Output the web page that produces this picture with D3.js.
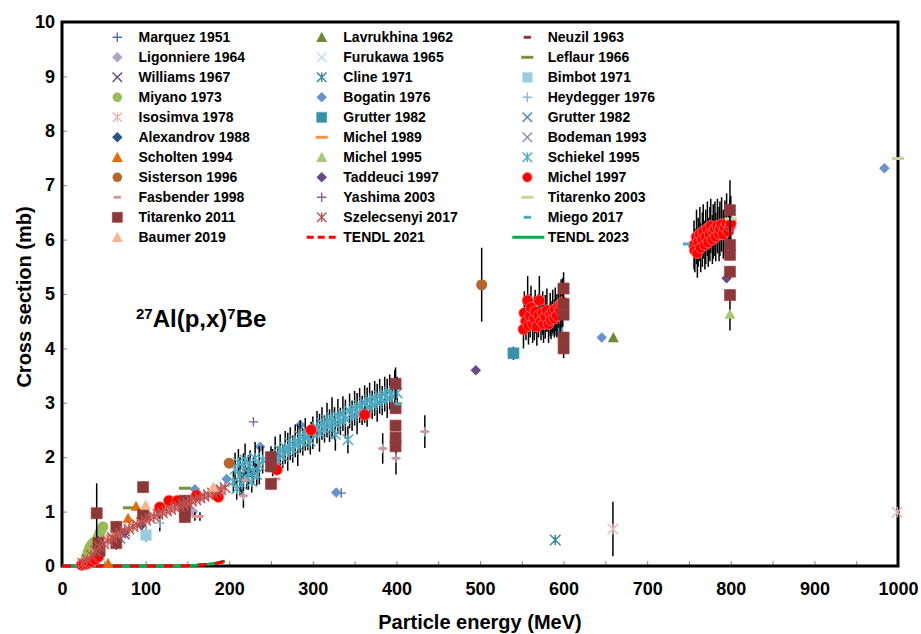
<!DOCTYPE html>
<html><head><meta charset="utf-8">
<script src="https://cdn.jsdelivr.net/npm/d3@7"></script>
<style>
body{margin:0;background:#fff}
text{font-family:"Liberation Sans",Arial,Helvetica,sans-serif;font-weight:bold;fill:#000}
</style>
</head><body>
<svg id="chart" width="921" height="634"></svg>
<script>
// ---------- DATA: [energy MeV, cross section mb, error mb] ----------
const marquez1951 = [[334,1.34,0]];
const lavrukhina1962 = [[659.5,4.2,0],[36,0.3,0]];
const neuzil1963 = [[150,1.05,0]];
const ligonniere1964 = [[157,1.0,0]];
const furukawa1965 = [[52,0.55,0],[100,0.85,0]];
const leflaur1966 = [[80,1.07,0],[125,1.12,0],[147,1.43,0]];
const williams1967 = [[75,0.58,0]];
const cline1971 = [[590,0.48,0.05]];
const bimbot1971 = [[100.5,0.57,0.12]];
const miyano1973 = [[27,0.08,0],[29,0.15,0],[31,0.25,0],[33,0.33,0],[35,0.38,0],[37,0.42,0],[39,0.44,0],[41,0.46,0],[43,0.52,0],[45,0.6,0],[47,0.67,0],[49,0.72,0]];
const bogatin1976 = [[159,1.41,0],[197,1.6,0],[237,2.19,0],[285,2.59,0],[328,1.35,0],[645.6,4.2,0],[983.7,7.31,0]];
const heydegger1976 = [[117,0.79,0.15],[217,1.29,0.22],[383.6,2.16,0.28],[399.5,1.98,0.3],[434,2.47,0.3]];
const isosimva1978 = [[659,0.68,0.5],[999,0.99,0.08]];
const grutterSq1982 = [[540,3.91,0.12],[592.5,4.34,0.1]];
const grutterX1982 = [[70,0.5,0]];
const alexandrov1988 = [[75,0.62,0],[95,0.75,0]];
const michel1989 = [[60,0.55,0]];
const bodeman1993 = [[45,0.3,0],[62,0.5,0]];
const scholten1994 = [[55,0.05,0],[79,0.88,0],[88.5,1.1,0]];
const michel1995 = [[799,4.63,0.3]];
const schiekel1995 = [[205,1.55,.2],[207,1.78,.3],[209,1.42,.2],[211,1.9,.25],[213,1.65,.35],[215,1.5,.22],[217,1.82,.25],[219,1.95,.3],[221,1.6,.2],[223,1.72,.32],[225,1.88,.25],[227,1.55,.2],[229,1.75,.25],[231,1.98,.3],[233,1.68,.2],[236,1.85,.35],[240,1.95,.25],
  [252,1.9,.25],[255,2.05,.33],[258,1.95,.25],[261,2.12,.3],[264,2.02,.22],[267,2.18,.3],[270,2.1,.35],[273,2.25,.3],[276,2.15,.25],[279,2.3,.3],[282,2.22,.38],[285,2.38,.3],[288,2.28,.25],[291,2.42,.3],[294,2.35,.22],[297,2.3,.25],[300,2.45,.3],
  [305,2.55,.3],[308,2.45,.35],[311,2.62,.3],[314,2.52,.25],[317,2.68,.32],[320,2.58,.3],[323,2.72,.38],[326,2.62,.3],[327,2.42,.3],[330,2.75,.32],[333,2.66,.25],[336,2.8,.32],[339,2.7,.36],[342,2.32,.25],[344,2.85,.32],[347,2.76,.28],[350,2.9,.32],[353,2.8,.38],[356,2.95,.32],[359,2.86,.27],[362,3.0,.32],[365,2.92,.36],[368,3.05,.32],[371,2.96,.26],[374,3.08,.32],[377,3.0,.35],[380,3.12,.32],[383,3.04,.27],[386,3.16,.32],[389,3.08,.36],[392,3.2,.32],[395,3.12,.28],[398,3.22,.38],[401,3.18,.3]];
const sisterson1996 = [[200,1.89,0],[502,5.17,0.68]];
const taddeuci1997 = [[495,3.6,0],[795,5.29,0]];
const michel1997 = [[23.5,0.02,0],[26,0.03,0],[29.5,0.04,0],[32,0.06,0],[35.5,0.08,0],[39.5,0.12,0],[43.5,0.17,0],
  [117,1.08,0.06],[128,1.2,0.06],[138,1.2,0.06],[161,1.3,0.07],[187,1.27,0.07],[257,1.77,0.1],[298,2.5,0.15],[362,2.78,0.15],
  [552,4.35,.35],[553,4.65,.4],[555,4.5,.35],[557,4.88,.45],[558,4.42,.35],[560,4.6,.4],[561,4.75,.4],[563,4.45,.35],[565,4.55,.4],[566,4.68,.4],[568,4.4,.35],[570,4.6,.4],[571,4.88,.45],[573,4.5,.35],[575,4.65,.4],[576,4.45,.35],[578,4.58,.4],[580,4.7,.4],[582,4.45,.35],[584,4.62,.4],[585,4.52,.35],[587,4.68,.4],[589,4.55,.35],[590,4.72,.4],[592,4.6,.4],[594,4.78,.4],[596,4.7,.4],[597,4.82,.45],[599,4.85,.45],
  [756,5.9,.45],[757,5.8,.4],[759,6.05,.5],[760,5.75,.45],[761,5.95,.45],[763,6.1,.5],[764,5.85,.45],[766,6.0,.5],[767,6.15,.5],[769,5.9,.45],[770,6.05,.5],[772,6.2,.5],[773,5.95,.45],[775,6.1,.5],[776,6.25,.5],[778,6.0,.45],[779,6.15,.5],[781,6.2,.5],[782,6.05,.45],[784,6.25,.5],[786,6.1,.5],[787,6.2,.5],[789,6.28,.5],[791,6.1,.45],[793,6.22,.5],[795,6.3,.55],[797,6.15,.5],[799,6.25,.5],[800,6.3,.5]];
const fasbender1998 = [[159,0.91,0.08],[165,0.91,0.08],[219,1.58,0],[257,1.6,0],[383.6,2.16,0],[399.5,1.98,0],[434,2.47,0],[217,1.29,0]];
const yashima2003 = [[229,2.65,0]];
const titarenko2003 = [[800,6.38,0],[1000,7.49,0]];
const titarenko2011 = [[41.5,0.97,0.55],[43.5,0.42,0.12],[45,0.28,0.1],[65,0.72,0.1],[65,0.42,0.12],[97,1.45,0.1],[97,0.94,0.1],[147,1.2,0.1],[147,1.0,0.1],[147,0.9,0.1],
  [250,2.0,0.2],[250,1.83,0.1],[250,1.51,0.1],[399,3.35,0.3],[399,2.9,0.1],[399,2.58,0.1],[399,2.36,0.1],[399,2.2,0.1],
  [600,5.1,0.3],[600,4.82,0.1],[600,4.62,0.1],[600,4.2,0.1],[600,4.0,0.18],[799,6.54,0.55],[799,5.9,0.1],[799,5.72,0.1],[799,5.41,0.1],[799,4.98,0.1]];
const szelecsenyi2017 = [[25,0.05,0],[30,0.12,0],[35,0.2,0],[40,0.28,0],[45,0.35,0],[50,0.41,0],[55,0.46,0],[60,0.52,0],[65,0.56,0],[70,0.6,0],[75,0.64,0],[80,0.68,0],[85,0.72,0],[90,0.76,0],[95,0.8,0],[100,0.84,0],[105,0.88,0],[110,0.91,0],[115,0.95,0],[120,0.98,0],[125,1.01,0],[130,1.04,0],[135,1.07,0],[140,1.1,0],[145,1.13,0],[150,1.16,0],[155,1.19,0],[160,1.22,0],[165,1.25,0],[170,1.28,0],[175,1.31,0],[180,1.34,0],[185,1.37,0],[190,1.4,0],[195,1.44,0]];
const miego2017 = [[402,2.98,0],[747,5.92,0]];
const baumer2019 = [[100,1.12,0],[181,1.45,0]];
const tendl2021 = [[0,0],[50,0],[100,0],[140,0.003],[160,0.012],[175,0.03],[185,0.05],[195,0.085]];
const tendl2023 = [[0,0],[50,0],[100,0],[140,0.004],[160,0.014],[175,0.032],[185,0.052],[195,0.088]];

const xTicks = d3.range(0, 1001, 50);
const yTicks = d3.range(0, 11, 1);

// ---------- SERIES STYLE (legend is row-major, 3 columns) ----------
const series = [
  {name:"Marquez 1951", d:marquez1951, shape:"plus", c:"#4a6fa5"},
  {name:"Lavrukhina 1962", d:lavrukhina1962, shape:"triangle", c:"#6f8a35"},
  {name:"Neuzil 1963", d:neuzil1963, shape:"sdash", c:"#943634"},
  {name:"Ligonniere 1964", d:ligonniere1964, shape:"diamond", c:"#b3a2c7"},
  {name:"Furukawa 1965", d:furukawa1965, shape:"x", c:"#c6d9f1"},
  {name:"Leflaur 1966", d:leflaur1966, shape:"dash", c:"#77933c"},
  {name:"Williams 1967", d:williams1967, shape:"x", c:"#604a7b"},
  {name:"Cline 1971", d:cline1971, shape:"asterisk", c:"#31859c"},
  {name:"Bimbot 1971", d:bimbot1971, shape:"square", c:"#9cc9dc"},
  {name:"Miyano 1973", d:miyano1973, shape:"circle", c:"#9bbb59"},
  {name:"Bogatin 1976", d:bogatin1976, shape:"diamond", c:"#6891d0"},
  {name:"Heydegger 1976", d:heydegger1976, shape:"plus", c:"#95b3d7"},
  {name:"Isosimva 1978", d:isosimva1978, shape:"asterisk", c:"#e6b9b8"},
  {name:"Grutter 1982", d:grutterSq1982, shape:"square", c:"#3a8fa8"},
  {name:"Grutter 1982", d:grutterX1982, shape:"x", c:"#4f81bd"},
  {name:"Alexandrov 1988", d:alexandrov1988, shape:"diamond", c:"#2c5286"},
  {name:"Michel 1989", d:michel1989, shape:"dash", c:"#f79646"},
  {name:"Bodeman 1993", d:bodeman1993, shape:"x", c:"#9783b6"},
  {name:"Scholten 1994", d:scholten1994, shape:"triangle", c:"#e46c0a"},
  {name:"Michel 1995", d:michel1995, shape:"triangle", c:"#a9c97a"},
  {name:"Schiekel 1995", d:schiekel1995, shape:"asterisk", c:"#4bacc6"},
  {name:"Sisterson 1996", d:sisterson1996, shape:"circle", c:"#b8652b"},
  {name:"Taddeuci 1997", d:taddeuci1997, shape:"diamond", c:"#674b8a"},
  {name:"Michel 1997", d:michel1997, shape:"circle", c:"#ff0000"},
  {name:"Fasbender 1998", d:fasbender1998, shape:"sdash", c:"#d99694"},
  {name:"Yashima 2003", d:yashima2003, shape:"plus", c:"#8064a2"},
  {name:"Titarenko 2003", d:titarenko2003, shape:"dash", c:"#c3d69b"},
  {name:"Titarenko 2011", d:titarenko2011, shape:"square", c:"#8b3838"},
  {name:"Szelecsenyi 2017", d:szelecsenyi2017, shape:"asterisk", c:"#c0504d"},
  {name:"Miego 2017", d:miego2017, shape:"sdash", c:"#4bacc6"},
  {name:"Baumer 2019", d:baumer2019, shape:"triangle", c:"#f9b38d"},
  {name:"TENDL 2021", d:tendl2021, line:true, c:"#ff0000", dash:"9,8", z:2},
  {name:"TENDL 2023", d:tendl2023, line:true, c:"#00b050", z:1}
];

// ---------- SETUP ----------
const svg = d3.select("#chart");
const L=62, R=898, T=22, B=566;
const x = d3.scaleLinear().domain([0,1000]).range([L,R]);
const y = d3.scaleLinear().domain([0,10]).range([B,T]);

const xa = svg.append("g").attr("transform",`translate(0,${B})`)
  .call(d3.axisBottom(x).tickValues(xTicks).tickSize(-5).tickPadding(16)
    .tickFormat(d => d%100===0 ? d : ""));
const ya = svg.append("g").attr("transform",`translate(${L},0)`)
  .call(d3.axisLeft(y).tickValues(yTicks).tickSize(-5).tickPadding(7));
[xa,ya].forEach(g=>{
  g.select(".domain").remove();
  g.selectAll(".tick line").attr("stroke","#888").attr("stroke-width",1);
  g.selectAll(".tick text").style("font-size","18px").style("font-family","Liberation Sans, Arial, sans-serif").style("font-weight","bold").attr("fill","#000");
});

function markerPath(shape, s){
  const h=s/2;
  switch(shape){
    case "circle": return d3.symbol(d3.symbolCircle, Math.PI*h*h)();
    case "square": return `M${-h},${-h}h${s}v${s}h${-s}Z`;
    case "diamond": return `M0,${-h}L${h},0L0,${h}L${-h},0Z`;
    case "triangle": return `M0,${-h}L${h},${h*0.85}L${-h},${h*0.85}Z`;
    case "plus": return `M${-h},0H${h}M0,${-h}V${h}`;
    case "x": return `M${-h},${-h}L${h},${h}M${-h},${h}L${h},${-h}`;
    case "asterisk": return `M${-h},${-h}L${h},${h}M${-h},${h}L${h},${-h}M0,${-h}V${h}`;
    case "dash": return `M${-h},0H${h}`;
    case "sdash": return `M${-h*0.6},0H${h*0.6}`;
  }
}
function isStroke(shape){ return ["plus","x","asterisk","dash","sdash"].includes(shape); }
function sizeOf(s){
  if (s.shape==="square") return 11;
  if (s.shape==="circle") return 11;
  if (s.shape==="diamond") return 10.5;
  if (s.shape==="triangle") return 11;
  if (s.shape==="dash"||s.shape==="sdash") return 12;
  if (s.shape==="asterisk") return 10.5;
  return 9.5;
}
function styleMarker(sel, s){
  if (isStroke(s.shape)){
    sel.attr("fill","none").attr("stroke",s.c)
      .attr("stroke-width", (s.shape==="dash"||s.shape==="sdash") ? 3 : 1.4);
  } else {
    sel.attr("fill",s.c);
    if (s.name==="Michel 1997") sel.attr("stroke","#ff7070").attr("stroke-width",0.8);
    else if (s.shape==="square") sel.attr("stroke", d3.color(s.c).brighter(0.4)).attr("stroke-width",0.7);
    else sel.attr("stroke","none");
  }
}

// frame first (markers sit on top of it)
svg.append("rect").attr("x",L).attr("y",T).attr("width",R-L).attr("height",B-T)
  .attr("fill","none").attr("stroke","#000").attr("stroke-width",3);

// TENDL curves over the axis line, under the markers
series.filter(s=>s.line).sort((a,b)=>a.z-b.z).forEach(s=>{
  svg.append("path").datum(s.d)
    .attr("d", d3.line().x(d=>x(d[0])).y(d=>y(d[1])))
    .attr("fill","none").attr("stroke",s.c).attr("stroke-width",3.2)
    .attr("stroke-dasharray", s.dash||null);
});

// ---------- PLOT ----------
const plot = svg.append("g");
series.filter(s=>!s.line).forEach(s=>{
  const g = plot.append("g");
  g.selectAll("line.err").data(s.d.filter(d=>d[2]>0)).join("line")
    .attr("x1",d=>x(d[0])).attr("x2",d=>x(d[0]))
    .attr("y1",d=>y(d[1]-d[2])).attr("y2",d=>y(d[1]+d[2]))
    .attr("stroke","#000").attr("stroke-width",1.5);
  const sz = sizeOf(s);
  g.selectAll("path.m").data(s.d).join("path")
    .attr("transform",d=>`translate(${x(d[0])},${y(d[1])})`)
    .attr("d", markerPath(s.shape, sz))
    .call(sel=>styleMarker(sel,s));
});

// ---------- LEGEND ----------
const colMarkX=[117.3,321.7,527.3], colTextX=[138.5,343.3,547.7];
const leg = svg.append("g");
series.forEach((s,i)=>{
  const r=Math.floor(i/3), c=i%3;
  const cy=37.3+r*20;
  if (s.line){
    leg.append("line").attr("x1",colMarkX[c]-15).attr("x2",colMarkX[c]+17)
      .attr("y1",cy).attr("y2",cy).attr("stroke",s.c).attr("stroke-width",3)
      .attr("stroke-dasharray",s.dash?"7,4":null);
  } else {
    let sz = sizeOf(s);
    if (s.shape==="square") sz=10; if (s.shape==="circle") sz=9.5; if (s.shape==="asterisk") sz=9.5;
    leg.append("path").attr("transform",`translate(${colMarkX[c]},${cy})`)
      .attr("d", markerPath(s.shape, sz)).call(sel=>styleMarker(sel,s));
  }
  leg.append("text").attr("x",colTextX[c]).attr("y",cy).attr("dy","0.36em")
    .style("font-size","14px").text(s.name);
});

// ---------- TITLES ----------
svg.append("text").attr("x",(L+R)/2).attr("y",629).attr("text-anchor","middle")
  .style("font-size","20px").text("Particle energy (MeV)");
svg.append("text").attr("transform",`translate(31,${(T+B)/2+3}) rotate(-90)`)
  .attr("text-anchor","middle").style("font-size","20px").text("Cross section (mb)");

const ann = svg.append("text").attr("x",136).attr("y",327).style("font-size","24px");
ann.append("tspan").attr("baseline-shift","super").style("font-size","15px").text("27");
ann.append("tspan").text("Al(p,x)");
ann.append("tspan").attr("baseline-shift","super").style("font-size","15px").text("7");
ann.append("tspan").text("Be");
</script>
</body></html>
